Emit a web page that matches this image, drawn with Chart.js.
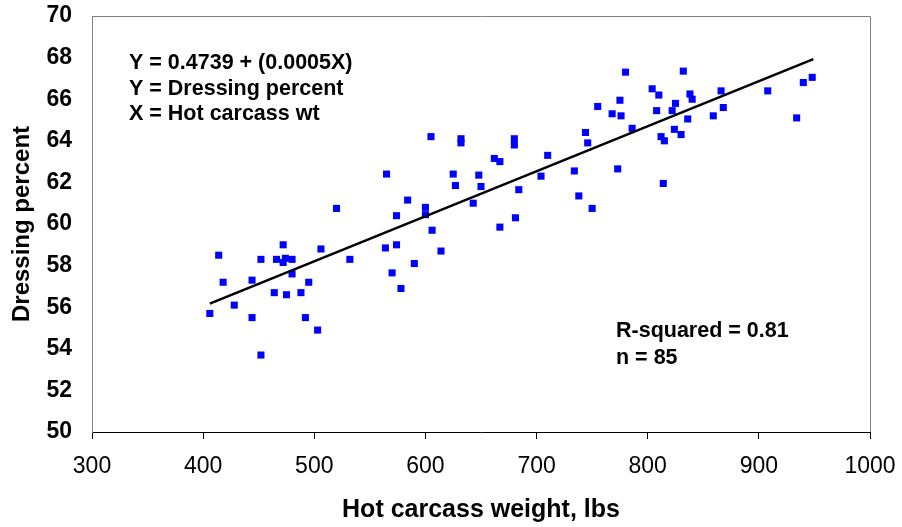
<!DOCTYPE html>
<html>
<head>
<meta charset="utf-8">
<title>Dressing percent vs hot carcass weight</title>
<script src="https://cdn.jsdelivr.net/npm/chart.js@4.4.1/dist/chart.umd.min.js"></script>
<style>
  html, body { margin: 0; padding: 0; background: #fff; }
  #wrap { width: 902px; height: 527px; }
</style>
</head>
<body>
<div id="wrap"><canvas id="chart" width="902" height="527"></canvas></div>
<script>
// Hot carcass weight (lbs) and dressing percent
const carcassWeight = [
  414, 472, 452, 466, 472, 474, 480, 506, 532, 418, 444, 480, 495, 464, 475, 488, 428, 406, 444, 492, 503, 452,
  520,
  605, 632, 632, 680, 680, 710, 662, 667, 565, 625, 648, 704, 627, 650, 684, 584, 643, 600, 600, 574, 681, 667,
  606, 564, 574, 614, 590, 570, 578,
  780, 832, 804, 810, 838, 840, 866, 908, 940, 948, 755, 775, 768, 776, 825, 808, 822, 868, 859, 836, 934, 786,
  744, 746, 824, 812, 815, 830, 734, 773, 738, 750, 814
];
const dressingPct = [
  58.5, 59.0, 58.3, 58.3, 58.15, 58.35, 58.3, 58.8, 58.3, 57.2, 57.3, 57.6, 57.2, 56.7, 56.6, 56.7, 56.1, 55.7, 55.5, 55.5, 54.9, 53.7,
  60.75,
  64.2, 64.1, 63.9, 64.1, 63.8, 63.3, 63.15, 63.0, 62.4, 62.4, 62.35, 62.3, 61.85, 61.8, 61.65, 61.15, 61.0, 60.8, 60.45, 60.4, 60.3, 59.85,
  59.7, 58.85, 59.0, 58.7, 58.1, 57.65, 56.9,
  67.3, 67.35, 66.5, 66.2, 66.25, 66.0, 66.4, 66.4, 66.8, 67.05, 65.65, 65.95, 65.3, 65.2, 65.8, 65.45, 65.45, 65.6, 65.2, 65.05, 65.1, 64.6,
  64.4, 63.9, 64.55, 64.2, 64.0, 64.3, 62.55, 62.65, 61.35, 60.75, 61.95
];

// fitted line, end points as drawn
const trendWeight = [406, 949];
const trendPct = [56.17, 67.93];

const equationLines = ['Y = 0.4739 + (0.0005X)', 'Y = Dressing percent', 'X = Hot carcass wt'];
const statLines = ['R-squared = 0.81', 'n = 85'];

const FONT = "'Liberation Sans', Arial, sans-serif";

const scatterPoints = carcassWeight.map((w, i) => ({ x: w, y: dressingPct[i] }));
const trendPoints = trendWeight.map((w, i) => ({ x: w, y: trendPct[i] }));

// gray frame on top and right, plus the text boxes
const framePlugin = {
    id: 'frame',
    beforeDatasetsDraw(chart) {
        const { ctx, chartArea: a } = chart;
        ctx.save();
        ctx.strokeStyle = '#808080';
        ctx.lineWidth = 1;
        ctx.beginPath();
        ctx.moveTo(a.left, a.top + 0.5);
        ctx.lineTo(a.right + 0.5, a.top + 0.5);
        ctx.lineTo(a.right + 0.5, a.bottom);
        ctx.stroke();
        ctx.restore();
    },
    afterDraw(chart) {
        const { ctx } = chart;
        ctx.save();
        ctx.fillStyle = '#000';
        ctx.font = 'bold 21.5px ' + FONT;
        ctx.textBaseline = 'alphabetic';
        ctx.textAlign = 'left';
        equationLines.forEach((t, i) => ctx.fillText(t, 129, 69 + i * 25.5));
        statLines.forEach((t, i) => ctx.fillText(t, 616, 337 + i * 26.5));
        ctx.restore();
    }
};

const ctx = document.getElementById('chart').getContext('2d');
// eslint-disable-next-line no-undef
const chart = new Chart(ctx, {
    type: 'scatter',
    data: {
        datasets: [{
            label: 'Dressing percent',
            data: scatterPoints,
            pointStyle: 'rect',
            pointRadius: 5,
            pointHoverRadius: 5,
            pointBorderWidth: 0,
            backgroundColor: '#0000ff',
            borderColor: '#0000ff',
            order: 2
        }, {
            label: 'Fit',
            type: 'line',
            data: trendPoints,
            borderColor: '#000',
            borderWidth: 2.5,
            pointRadius: 0,
            fill: false,
            tension: 0,
            order: 1
        }]
    },
    options: {
        responsive: false,
        animation: false,
        events: [],
        layout: { padding: { left: 0, top: 16, right: 32, bottom: 0 } },
        plugins: {
            legend: { display: false },
            tooltip: { enabled: false }
        },
        scales: {
            x: {
                type: 'linear',
                min: 300,
                max: 1000,
                afterFit: s => {
                    s.height = 95;
                    s.paddingLeft = 0;
                    s.paddingRight = 0;
                },
                ticks: {
                    stepSize: 100,
                    color: '#000',
                    padding: 14,
                    maxRotation: 0,
                    callback: v => String(v),
                    font: { family: FONT, size: 23 }
                },
                grid: {
                    drawOnChartArea: false,
                    drawTicks: true,
                    tickLength: 7,
                    color: '#000'
                },
                border: { color: '#000', width: 1 },
                title: {
                    display: true,
                    text: 'Hot carcass weight, lbs',
                    color: '#000',
                    padding: { top: 0, bottom: 2 },
                    font: { family: FONT, size: 25, weight: 'bold' }
                }
            },
            y: {
                type: 'linear',
                min: 50,
                max: 70,
                afterFit: s => {
                    s.width = 92;
                    s.paddingTop = 0;
                    s.paddingBottom = 0;
                },
                ticks: {
                    stepSize: 2,
                    color: '#000',
                    padding: 20,
                    callback: v => String(v),
                    font: { family: FONT, size: 23, weight: 'bold' }
                },
                grid: { display: false, drawTicks: false },
                border: { color: '#808080', width: 1 },
                title: {
                    display: true,
                    text: 'Dressing percent',
                    color: '#000',
                    padding: { top: 8, bottom: 0 },
                    font: { family: FONT, size: 24, weight: 'bold' }
                }
            }
        }
    },
    plugins: [framePlugin]
});
</script>
</body>
</html>
